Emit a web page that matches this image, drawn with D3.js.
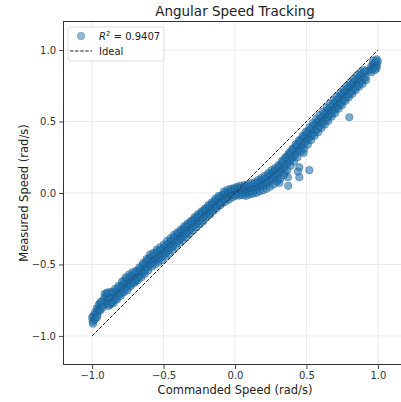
<!DOCTYPE html>
<html>
<head>
<meta charset="utf-8">
<script src="https://cdn.jsdelivr.net/npm/d3@7"></script>
<style>
  body { margin: 0; background: #fff; }
  svg { display: block; font-family: "DejaVu Sans", sans-serif; }
</style>
</head>
<body>
<svg id="chart" width="401" height="402"></svg>
<script>
// Commanded angular speed (rad/s), one entry per sample
const commanded = [
  -1.000,-0.996,-0.991,-0.985,-0.980,-0.973,-0.968,-0.962,-0.957,-0.950,-0.946,-0.940,-0.934,-0.928,-0.921,-0.915,-0.908,-0.902,
  -0.896,-0.890,-0.884,-0.879,-0.872,-0.866,-0.860,-0.853,-0.847,-0.841,-0.836,-0.829,-0.823,-0.818,-0.811,-0.805,-0.880,-0.858,
  -0.798,-0.792,-0.786,-0.780,-0.774,-0.769,-0.762,-0.756,-0.751,-0.745,-0.738,-0.733,-0.727,-0.720,-0.714,-0.708,-0.703,
  -0.697,-0.691,-0.686,-0.680,-0.674,-0.668,-0.662,-0.657,-0.651,-0.645,-0.640,-0.633,-0.628,-0.622,-0.616,-0.610,-0.604,
  -0.598,-0.592,-0.587,-0.581,-0.575,-0.569,-0.563,-0.558,-0.552,-0.546,-0.540,-0.534,-0.528,-0.522,-0.516,-0.511,-0.505,
  -0.499,-0.493,-0.487,-0.481,-0.476,-0.470,-0.464,-0.458,-0.452,-0.447,-0.441,-0.435,-0.429,-0.423,-0.417,-0.411,-0.405,
  -0.399,-0.393,-0.387,-0.381,-0.375,-0.369,-0.363,-0.357,-0.351,-0.345,-0.339,-0.333,-0.327,-0.321,-0.315,-0.309,-0.303,
  -0.297,-0.291,-0.285,-0.279,-0.273,-0.267,-0.261,-0.255,-0.249,-0.243,-0.237,-0.231,-0.225,-0.219,-0.213,-0.207,-0.201,
  -0.196,-0.190,-0.184,-0.178,-0.172,-0.166,-0.160,-0.154,-0.148,-0.142,-0.136,-0.130,-0.124,-0.118,-0.112,-0.106,-0.100,
  -0.094,-0.088,-0.082,-0.076,-0.070,-0.064,-0.058,-0.052,-0.046,-0.040,-0.034,-0.028,-0.022,-0.016,-0.010,-0.004,
   0.002, 0.008, 0.014, 0.020, 0.026, 0.032, 0.038, 0.044, 0.050, 0.056, 0.062, 0.068, 0.074, 0.080, 0.086, 0.092, 0.098,
   0.104, 0.110, 0.116, 0.122, 0.128, 0.134, 0.140, 0.146, 0.152, 0.158, 0.164, 0.170, 0.176, 0.182, 0.188, 0.194, 0.200,
   0.206, 0.212, 0.218, 0.224, 0.230, 0.236, 0.242, 0.248, 0.254, 0.260, 0.266, 0.272, 0.278, 0.284, 0.290, 0.296,
   0.302, 0.308, 0.314, 0.320, 0.326, 0.332, 0.338, 0.344, 0.350, 0.356, 0.362, 0.368, 0.374, 0.380, 0.386, 0.392, 0.398,
   0.404, 0.410, 0.416, 0.422, 0.428, 0.434, 0.440, 0.446, 0.452, 0.458, 0.464, 0.470, 0.476, 0.482, 0.488, 0.494, 0.500,
   0.506, 0.512, 0.518, 0.524, 0.530, 0.536, 0.542, 0.548, 0.554, 0.560, 0.566, 0.572, 0.578, 0.584, 0.590, 0.596,
   0.602, 0.608, 0.614, 0.620, 0.626, 0.632, 0.638, 0.644, 0.650, 0.656, 0.662, 0.668, 0.674, 0.680, 0.686, 0.692, 0.698,
   0.704, 0.710, 0.716, 0.722, 0.728, 0.734, 0.740, 0.746, 0.752, 0.758, 0.764, 0.770, 0.776, 0.782, 0.788, 0.794, 0.800,
   0.806, 0.812, 0.818, 0.824, 0.830, 0.836, 0.842, 0.848, 0.854, 0.860, 0.866, 0.872, 0.878, 0.884, 0.890, 0.896,
   0.902, 0.908, 0.914, 0.920, 0.946, 0.952, 0.958, 0.964, 0.970, 0.976, 0.982, 0.988, 0.994, 1.000, 0.990,
   0.300, 0.350, 0.370, 0.372, 0.450, 0.450, 0.480, 0.520, 0.800, 0.310, 0.440,
  -0.993,-0.977,-0.965,-0.952,-0.938,-0.925,-0.912,-0.898,-0.887,-0.875,-0.862,-0.850,-0.838,-0.826,-0.814,-0.802,
  -0.790,-0.777,-0.765,-0.753,-0.741,-0.729,-0.717,-0.705,-0.693,-0.681,-0.669,-0.655,-0.643,-0.631,-0.619,-0.607,
  -0.595,-0.583,-0.571,-0.559,-0.547,-0.535,-0.523,-0.511,-0.498,-0.486,-0.474,-0.462,-0.450,-0.438,-0.426,-0.414,
  -0.402,-0.390,-0.378,-0.366,-0.354,-0.342,-0.330,-0.318,-0.306,-0.294,-0.282,-0.270,-0.258,-0.246,-0.234,-0.222,
  -0.210,-0.198,-0.186,-0.174,-0.162,-0.150,-0.138,-0.126,-0.114,-0.102,-0.090,-0.078,-0.066,-0.054,-0.042,-0.030,-0.018,-0.006,
   0.005, 0.017, 0.029, 0.041, 0.053, 0.065, 0.077, 0.089, 0.101, 0.113, 0.125, 0.137, 0.149, 0.161, 0.173, 0.185, 0.197,
   0.209, 0.221, 0.233, 0.245, 0.257, 0.269, 0.281, 0.293, 0.305, 0.317, 0.329, 0.341, 0.353, 0.365, 0.377, 0.389,
   0.401, 0.413, 0.425, 0.437, 0.449, 0.461, 0.473, 0.485, 0.497, 0.509, 0.521, 0.533, 0.545, 0.557, 0.569, 0.581,
   0.593, 0.605, 0.617, 0.629, 0.641, 0.653, 0.665, 0.677, 0.689, 0.701, 0.713, 0.725, 0.737, 0.749, 0.761, 0.773,
   0.785, 0.797, 0.809, 0.821, 0.833, 0.845, 0.857, 0.869, 0.881, 0.893, 0.905, 0.917, 0.955, 0.967, 0.979, 0.991
];

// Measured angular speed (rad/s), same order as commanded
const measured = [
  -0.872,-0.900,-0.860,-0.888,-0.836,-0.850,-0.808,-0.850,-0.812,-0.822,-0.776,-0.818,-0.784,-0.760,-0.784,-0.735,-0.772,-0.722,
  -0.765,-0.712,-0.790,-0.745,-0.708,-0.772,-0.738,-0.700,-0.752,-0.725,-0.690,-0.735,-0.705,-0.668,-0.712,-0.682,-0.730,-0.760,
  -0.655,-0.700,-0.640,-0.676,-0.615,-0.660,-0.638,-0.600,-0.662,-0.625,-0.590,-0.640,-0.612,-0.578,-0.625,-0.598,-0.566,
  -0.620,-0.568,-0.600,-0.548,-0.590,-0.540,-0.578,-0.526,-0.560,-0.508,-0.552,-0.498,-0.540,-0.484,-0.522,-0.470,-0.505,
  -0.455,-0.500,-0.448,-0.488,-0.438,-0.480,-0.430,-0.472,-0.420,-0.465,-0.412,-0.458,-0.405,-0.450,-0.398,-0.440,-0.390,
  -0.432,-0.380,-0.420,-0.368,-0.410,-0.356,-0.398,-0.345,-0.385,-0.334,-0.374,-0.322,-0.362,-0.310,-0.350,-0.300,-0.338,
  -0.288,-0.330,-0.278,-0.318,-0.266,-0.306,-0.256,-0.296,-0.244,-0.286,-0.234,-0.274,-0.222,-0.262,-0.214,-0.250,-0.202,
  -0.240,-0.190,-0.228,-0.180,-0.218,-0.170,-0.206,-0.160,-0.196,-0.150,-0.186,-0.138,-0.174,-0.128,-0.162,-0.118,-0.150,
  -0.108,-0.142,-0.098,-0.130,-0.088,-0.120,-0.076,-0.108,-0.066,-0.098,-0.054,-0.088,-0.044,-0.076,-0.034,-0.064,-0.024,
  -0.054,-0.016,-0.046,-0.008,-0.040,-0.002,-0.034, 0.004,-0.026, 0.010,-0.020, 0.016,-0.012, 0.022,-0.008, 0.024,
   0.000, 0.028,-0.006, 0.020, 0.036, 0.002, 0.026,-0.004, 0.034, 0.010, 0.040, 0.004, 0.024,-0.002, 0.038, 0.012, 0.042,
   0.008, 0.046, 0.018, 0.052, 0.010, 0.040, 0.062, 0.022, 0.066, 0.032, 0.072, 0.038, 0.082, 0.046, 0.090, 0.054, 0.094,
   0.052, 0.100, 0.064, 0.112, 0.070, 0.124, 0.080, 0.132, 0.090, 0.142, 0.098, 0.152, 0.110, 0.162, 0.118, 0.170,
   0.128, 0.184, 0.142, 0.198, 0.156, 0.212, 0.170, 0.228, 0.186, 0.244, 0.200, 0.258, 0.214, 0.272, 0.228, 0.286, 0.244,
   0.300, 0.256, 0.316, 0.270, 0.330, 0.286, 0.344, 0.300, 0.358, 0.314, 0.372, 0.328, 0.386, 0.344, 0.400, 0.358, 0.414,
   0.372, 0.428, 0.384, 0.440, 0.398, 0.454, 0.410, 0.468, 0.424, 0.480, 0.436, 0.494, 0.450, 0.506, 0.464, 0.518,
   0.478, 0.532, 0.490, 0.546, 0.504, 0.560, 0.516, 0.574, 0.530, 0.586, 0.544, 0.600, 0.556, 0.612, 0.570, 0.626, 0.584,
   0.638, 0.596, 0.652, 0.610, 0.666, 0.622, 0.680, 0.636, 0.692, 0.650, 0.704, 0.662, 0.718, 0.676, 0.730, 0.690, 0.744,
   0.702, 0.756, 0.714, 0.768, 0.726, 0.780, 0.738, 0.792, 0.750, 0.804, 0.762, 0.816, 0.776, 0.828, 0.788, 0.838,
   0.800, 0.846, 0.812, 0.852, 0.860, 0.884, 0.866, 0.900, 0.876, 0.910, 0.888, 0.916, 0.894, 0.922, 0.872,
   0.090, 0.140, 0.110, 0.050, 0.180, 0.110, 0.280, 0.160, 0.530, 0.070, 0.150,
  -0.915,-0.880,-0.870,-0.780,-0.760,-0.800,-0.705,-0.700,-0.695,-0.780,-0.690,-0.770,-0.670,-0.745,-0.650,-0.720,
  -0.620,-0.695,-0.590,-0.680,-0.570,-0.650,-0.555,-0.630,-0.545,-0.610,-0.520,-0.590,-0.490,-0.565,-0.462,-0.540,
  -0.430,-0.515,-0.420,-0.500,-0.395,-0.485,-0.380,-0.470,-0.360,-0.445,-0.335,-0.425,-0.315,-0.400,-0.292,-0.375,
  -0.275,-0.350,-0.255,-0.330,-0.232,-0.310,-0.212,-0.285,-0.195,-0.262,-0.168,-0.240,-0.148,-0.218,-0.128,-0.198,
  -0.108,-0.170,-0.085,-0.150,-0.065,-0.125,-0.040,-0.105,-0.020,-0.085,-0.070, 0.010,-0.060, 0.022,-0.045, 0.030,-0.030, 0.035,
  -0.020, 0.045,-0.018, 0.050,-0.015, 0.055,-0.020, 0.060,-0.010, 0.068,-0.005, 0.075, 0.000, 0.090, 0.012, 0.105, 0.020,
   0.120, 0.030, 0.140, 0.045, 0.160, 0.060, 0.175, 0.080, 0.195, 0.100, 0.225, 0.125, 0.250, 0.160, 0.280, 0.190,
   0.310, 0.220, 0.340, 0.250, 0.370, 0.290, 0.400, 0.310, 0.430, 0.340, 0.460, 0.370, 0.490, 0.400, 0.520, 0.425,
   0.545, 0.455, 0.570, 0.480, 0.600, 0.505, 0.625, 0.535, 0.650, 0.560, 0.675, 0.590, 0.700, 0.615, 0.725, 0.645,
   0.750, 0.670, 0.775, 0.695, 0.800, 0.720, 0.825, 0.745, 0.845, 0.765, 0.860, 0.790, 0.845, 0.925, 0.860, 0.935
];

const xTicks = [-1.0, -0.5, 0.0, 0.5, 1.0];
const yTicks = [-1.0, -0.5, 0.0, 0.5, 1.0];
const idealLine = [-1.0, 1.0];          // y = x reference, from -1 to 1
const rSquared = 0.9407;

const svg = d3.select("#chart");
const x = d3.scaleLinear().domain([-1.2, 1.2]).range([63.5, 406.5]);
const y = d3.scaleLinear().domain([-1.2, 1.2]).range([364.5, 21.5]);
const fmt = d3.format(".1f");
const ink = "#333";

// grid
const grid = svg.append("g").attr("stroke", "#e6e6e6").attr("stroke-width", 0.8);
grid.selectAll("line.gx").data(xTicks).join("line")
  .attr("x1", d => x(d)).attr("x2", d => x(d))
  .attr("y1", y.range()[0]).attr("y2", y.range()[1]);
grid.selectAll("line.gy").data(yTicks).join("line")
  .attr("y1", d => y(d)).attr("y2", d => y(d))
  .attr("x1", x.range()[0]).attr("x2", x.range()[1]);

// scatter of measured vs commanded
svg.append("g").selectAll("circle").data(d3.range(commanded.length)).join("circle")
  .attr("cx", i => x(commanded[i]))
  .attr("cy", i => y(measured[i]))
  .attr("r", 3.8)
  .attr("fill", "#1f77b4").attr("fill-opacity", 0.6)
  .attr("stroke", "#163f63").attr("stroke-opacity", 0.6).attr("stroke-width", 0.5);

// ideal tracking line
svg.append("line")
  .attr("x1", x(idealLine[0])).attr("y1", y(idealLine[0]))
  .attr("x2", x(idealLine[1])).attr("y2", y(idealLine[1]))
  .attr("stroke", "#222").attr("stroke-width", 1)
  .attr("stroke-dasharray", "3.5,1.6");

// axes
const xAxis = svg.append("g").attr("transform", `translate(0,${y.range()[0]})`)
  .call(d3.axisBottom(x).tickValues(xTicks).tickFormat(fmt).tickSize(4.5).tickPadding(3));
const yAxis = svg.append("g").attr("transform", `translate(${x.range()[0]},0)`)
  .call(d3.axisLeft(y).tickValues(yTicks).tickFormat(fmt).tickSize(4.5).tickPadding(3));
[xAxis, yAxis].forEach(g => {
  g.select(".domain").remove();
  g.selectAll(".tick line").attr("stroke", ink).attr("stroke-width", 0.9);
  g.selectAll(".tick text").attr("fill", ink)
    .style("font-family", "DejaVu Sans").style("font-size", "10px");
});

// frame
svg.append("rect")
  .attr("x", x.range()[0]).attr("y", y.range()[1])
  .attr("width", x.range()[1] - x.range()[0])
  .attr("height", y.range()[0] - y.range()[1])
  .attr("fill", "none").attr("stroke", ink).attr("stroke-width", 1);

// title and axis labels
svg.append("text").attr("x", (x.range()[0] + x.range()[1]) / 2).attr("y", 15.5)
  .attr("text-anchor", "middle").attr("fill", "#222").style("font-size", "13.5px")
  .text("Angular Speed Tracking");
svg.append("text").attr("x", (x.range()[0] + x.range()[1]) / 2).attr("y", 393.5)
  .attr("text-anchor", "middle").attr("fill", "#222").style("font-size", "11.5px")
  .text("Commanded Speed (rad/s)");
svg.append("text").attr("transform", `translate(28,${(y.range()[0] + y.range()[1]) / 2}) rotate(-90)`)
  .attr("text-anchor", "middle").attr("fill", "#222").style("font-size", "11.5px")
  .text("Measured Speed (rad/s)");

// legend
const lg = svg.append("g");
lg.append("rect").attr("x", 68).attr("y", 27).attr("width", 96).attr("height", 34).attr("rx", 3)
  .attr("fill", "#fff").attr("fill-opacity", 0.85).attr("stroke", "#d6d6d6").attr("stroke-width", 0.8);
lg.append("circle").attr("cx", 81).attr("cy", 36).attr("r", 3.8)
  .attr("fill", "#1f77b4").attr("fill-opacity", 0.5)
  .attr("stroke", "#163f63").attr("stroke-opacity", 0.5).attr("stroke-width", 0.5);
lg.append("line").attr("x1", 70).attr("x2", 92).attr("y1", 51).attr("y2", 51)
  .attr("stroke", "#222").attr("stroke-width", 1).attr("stroke-dasharray", "3.5,1.6");
const t1 = lg.append("text").attr("x", 99).attr("y", 39.5).attr("fill", "#222").style("font-size", "10px");
t1.append("tspan").style("font-style", "italic").text("R");
t1.append("tspan").attr("dy", -4).style("font-size", "7px").text("2");
t1.append("tspan").attr("dy", 4).text(` = ${rSquared.toFixed(4)}`);
lg.append("text").attr("x", 99).attr("y", 54.5).attr("fill", "#222").style("font-size", "10px").text("Ideal");
</script>
</body>
</html>
